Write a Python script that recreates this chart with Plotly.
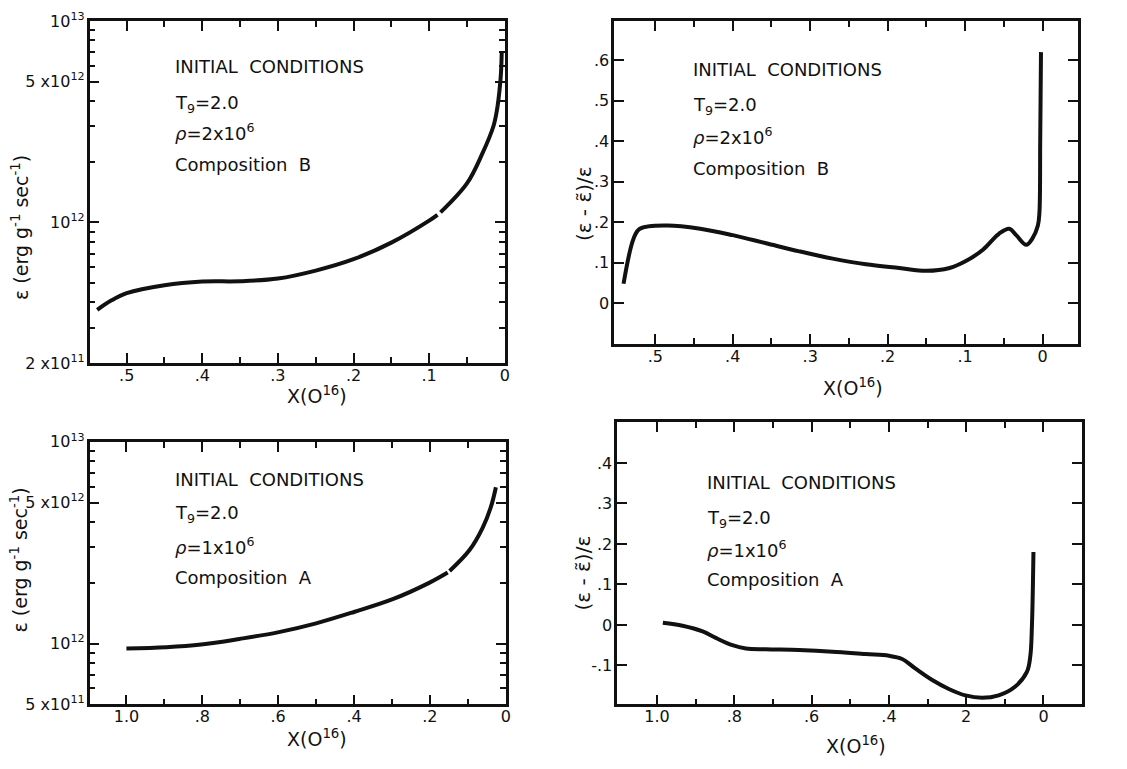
import math
import plotly.graph_objects as go

# ---------------- data ----------------
# Panel 1: epsilon vs X(O16), composition B (log y)
p1_x = [0.539, 0.52, 0.50, 0.45, 0.40, 0.35, 0.30, 0.25, 0.20, 0.15, 0.10, 0.089,
        None, 0.085, 0.05, 0.03, 0.015, 0.01, 0.007, 0.005, 0.004]
p1_y = [3.68e11, 4.1e11, 4.45e11, 4.87e11, 5.08e11, 5.1e11, 5.26e11, 5.76e11, 6.56e11,
        7.93e11, 1.02e12, 1.09e12, None, 1.12e12, 1.56e12, 2.18e12, 3.0e12, 3.67e12,
        4.5e12, 5.5e12, 7.0e12]

# Panel 2: (eps - eps~)/eps vs X(O16), composition B
p2_x = [0.541, 0.528, 0.520, 0.485, 0.442, 0.400, 0.357, 0.314, 0.271, 0.228, 0.185,
        0.150, 0.120, 0.099, 0.077, 0.056, 0.043, 0.034, 0.021, 0.013, 0.006, 0.004,
        0.003, 0.002]
p2_y = [0.048, 0.16, 0.184, 0.192, 0.184, 0.168, 0.148, 0.128, 0.110, 0.096, 0.087,
        0.080, 0.087, 0.104, 0.132, 0.172, 0.184, 0.168, 0.144, 0.16, 0.192, 0.224,
        0.40, 0.62]

# Panel 3: epsilon vs X(O16), composition A (log y)
p3_x = [1.0, 0.895, 0.803, 0.702, 0.601, 0.50, 0.40, 0.298, 0.202, 0.153,
        None, 0.148, 0.096, 0.061, 0.039, 0.026]
p3_y = [9.45e11, 9.6e11, 9.9e11, 1.055e12, 1.137e12, 1.26e12, 1.435e12, 1.66e12,
        2.0e12, 2.25e12, None, 2.29e12, 2.9e12, 3.75e12, 4.77e12, 5.96e12]

# Panel 4: (eps - eps~)/eps vs X(O16), composition A
p4_x = [0.985, 0.934, 0.882, 0.848, 0.805, 0.770, 0.719, 0.633, 0.546, 0.460, 0.400,
        0.366, 0.331, 0.288, 0.245, 0.202, 0.159, 0.116, 0.073, 0.043, 0.034, 0.030,
        0.026]
p4_y = [0.0056, -0.002, -0.016, -0.032, -0.05, -0.058, -0.060, -0.062, -0.066, -0.072,
        -0.076, -0.084, -0.108, -0.136, -0.158, -0.174, -0.180, -0.174, -0.152, -0.116,
        -0.076, -0.004, 0.18]

# tick labels
p1_xticks = [0.5, 0.4, 0.3, 0.2, 0.1, 0.0]
p1_xtext = [".5", ".4", ".3", ".2", ".1", "0"]
p1_ytickvals = [2e11, 1e12, 5e12, 1e13]
p1_ytext = ["2 x10<sup>11</sup>", "10<sup>12</sup>", "5 x10<sup>12</sup>", "10<sup>13</sup>"]

p2_xticks = [0.5, 0.4, 0.3, 0.2, 0.1, 0.0]
p2_xtext = [".5", ".4", ".3", ".2", ".1", "0"]
p2_yticks = [0.0, 0.1, 0.2, 0.3, 0.4, 0.5, 0.6]
p2_ytext = ["0", ".1", ".2", ".3", ".4", ".5", ".6"]

p3_xticks = [1.0, 0.8, 0.6, 0.4, 0.2, 0.0]
p3_xtext = ["1.0", ".8", ".6", ".4", ".2", "0"]
p3_ytickvals = [5e11, 1e12, 5e12, 1e13]
p3_ytext = ["5 x10<sup>11</sup>", "10<sup>12</sup>", "5 x10<sup>12</sup>", "10<sup>13</sup>"]

p4_xticks = [1.0, 0.8, 0.6, 0.4, 0.2, 0.0]
p4_xtext = ["1.0", ".8", ".6", ".4", "2", "0"]
p4_yticks = [-0.1, 0.0, 0.1, 0.2, 0.3, 0.4]
p4_ytext = ["-.1", "0", ".1", ".2", ".3", ".4"]

log_minor_1 = [m * 10 ** e for e in (11, 12) for m in range(2, 10)]
log_minor_3 = [m * 1e11 for m in range(5, 10)] + [m * 1e12 for m in range(2, 10)]

# ---------------- figure ----------------
OFF = 8                      # page body margin
W, H = 1127 - 2 * OFF, 769 - 2 * OFF
FONT = "DejaVu Sans"
BLACK = "#111111"


def px(a):
    return (a - OFF) / W


def py(b):
    return 1 - (b - OFF) / H


def dx(a, b):
    return [px(a), px(b)]


def dy(top, bottom):
    return [py(bottom), py(top)]


fig = go.Figure()
line = dict(color=BLACK, width=4)
fig.add_trace(go.Scatter(x=p1_x, y=p1_y, mode="lines", line=line, xaxis="x", yaxis="y",
                         line_shape="spline", connectgaps=False))
fig.add_trace(go.Scatter(x=p2_x, y=p2_y, mode="lines", line=line, xaxis="x2", yaxis="y2",
                         line_shape="spline"))
fig.add_trace(go.Scatter(x=p3_x, y=p3_y, mode="lines", line=line, xaxis="x3", yaxis="y3",
                         line_shape="spline", connectgaps=False))
fig.add_trace(go.Scatter(x=p4_x, y=p4_y, mode="lines", line=line, xaxis="x4", yaxis="y4",
                         line_shape="spline"))

common = dict(showline=True, linecolor=BLACK, linewidth=2.5, mirror="ticks",
              ticks="inside", ticklen=10, tickwidth=2, tickcolor=BLACK,
              showgrid=False, zeroline=False, tickmode="array",
              tickfont=dict(family=FONT, size=16, color=BLACK))
xcommon = dict(common, ticklabelstandoff=-4)
ycommon = dict(common, ticklabelstandoff=-1)
minor_lin = dict(ticks="inside", ticklen=6, tickwidth=2, tickcolor=BLACK, showgrid=False)

fig.update_layout(
    width=W, height=H, margin=dict(l=0, r=0, t=0, b=0),
    paper_bgcolor="white", plot_bgcolor="white", showlegend=False,
    xaxis=dict(xcommon, domain=dx(90, 507), range=[0.549, 0.0], anchor="y",
               tickvals=p1_xticks, ticktext=p1_xtext,
               minor=dict(minor_lin, tickvals=[0.45, 0.35, 0.25, 0.15, 0.05])),
    yaxis=dict(ycommon, domain=dy(10, 362), type="log",
               range=[math.log10(2e11), 13.0], anchor="x",
               tickvals=p1_ytickvals, ticktext=p1_ytext,
               minor=dict(minor_lin, tickvals=log_minor_1)),
    xaxis2=dict(xcommon, domain=dx(617, 1083), range=[0.553, -0.046], anchor="y2",
                tickvals=p2_xticks, ticktext=p2_xtext,
                minor=dict(minor_lin, tickvals=[0.45, 0.35, 0.25, 0.15, 0.05])),
    yaxis2=dict(ycommon, domain=dy(10, 342), range=[-0.1, 0.697], anchor="x2",
                tickvals=p2_yticks, ticktext=p2_ytext),
    xaxis3=dict(xcommon, domain=dx(90, 508), range=[1.097, 0.0], anchor="y3",
                tickvals=p3_xticks, ticktext=p3_xtext,
                minor=dict(minor_lin, tickvals=[0.9, 0.7, 0.5, 0.3, 0.1])),
    yaxis3=dict(ycommon, domain=dy(443, 713), type="log",
                range=[math.log10(5e11), 13.0], anchor="x3",
                tickvals=p3_ytickvals, ticktext=p3_ytext,
                minor=dict(minor_lin, tickvals=log_minor_3)),
    xaxis4=dict(xcommon, domain=dx(620, 1087), range=[1.103, -0.1], anchor="y4",
                tickvals=p4_xticks, ticktext=p4_xtext,
                minor=dict(minor_lin, tickvals=[0.9, 0.7, 0.5, 0.3, 0.1])),
    yaxis4=dict(ycommon, domain=dy(423, 713), range=[-0.196, 0.5], anchor="x4",
                tickvals=p4_yticks, ticktext=p4_ytext),
)

# ---------------- text ----------------
ann = []


def text(x, y, s, size=18, angle=0, xanchor="left"):
    ann.append(dict(x=px(x), y=py(y), xref="paper", yref="paper", text=s,
                    showarrow=False, xanchor=xanchor, yanchor="middle", textangle=angle,
                    font=dict(family=FONT, size=size, color=BLACK)))


def block(x0, ys, rho, comp):
    text(x0, ys[0], "INITIAL  CONDITIONS", 18)
    text(x0, ys[1], "T<sub>9</sub>=2.0", 18)
    text(x0, ys[2], "<i>ρ</i>=" + rho, 18)
    text(x0, ys[3], comp, 18)


block(174, [57, 95, 124, 158], "2x10<sup>6</sup>", "Composition  B")
block(694, [60, 98, 128, 162], "2x10<sup>6</sup>", "Composition  B")
block(174, [482, 517, 550, 583], "1x10<sup>6</sup>", "Composition  A")
block(708, [485, 522, 553, 585], "1x10<sup>6</sup>", "Composition  A")

eps_title = "ε (erg g<sup>-1</sup> sec<sup>-1</sup>)"
rel_title = "(ε - ε\u0303)/ε"
text(20, 222, eps_title, 19, -90, "center")
text(20, 564, eps_title, 19, -90, "center")
text(586, 198, rel_title, 20, -90, "center")
text(586, 578, rel_title, 20, -90, "center")

xt = "X(O<sup>16</sup>)"
text(318, 395, xt, 19, 0, "center")
text(857, 387, xt, 19, 0, "center")
text(318, 748, xt, 19, 0, "center")
text(860, 755, xt, 19, 0, "center")

fig.update_layout(annotations=ann)
fig.write_html("out.html")
